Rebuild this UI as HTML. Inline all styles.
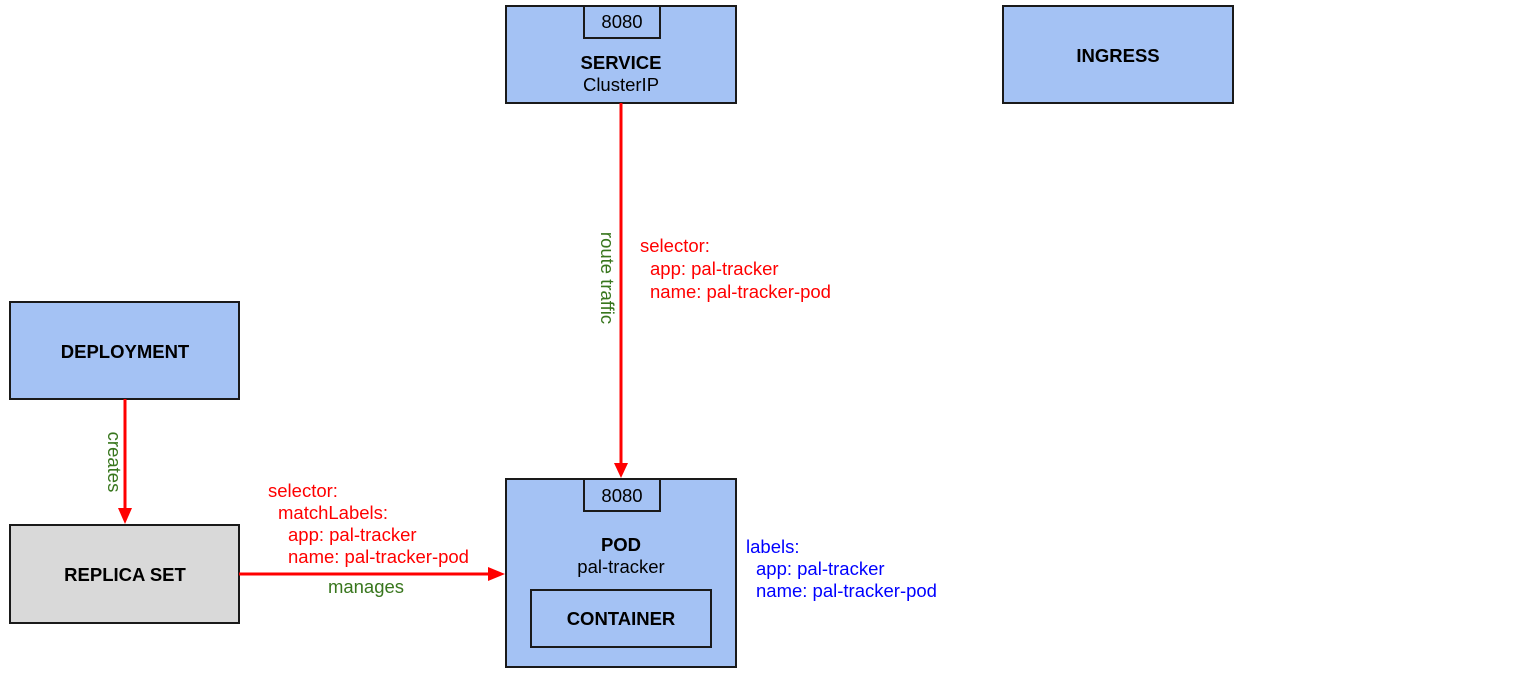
<!DOCTYPE html>
<html><head><meta charset="utf-8"><style>
html,body{margin:0;padding:0;background:#fff;width:1537px;height:681px;overflow:hidden}
svg text{font-family:"Liberation Sans",Arial,sans-serif;font-size:18.5px}
</style></head><body>
<svg width="1537" height="681" viewBox="0 0 1537 681" xmlns="http://www.w3.org/2000/svg">
<g stroke="#1a1a1a" stroke-width="2">
<rect x="506" y="6" width="230" height="97" fill="#a4c2f4"/>
<rect x="584" y="6" width="76" height="32" fill="#a4c2f4"/>
<rect x="1003" y="6" width="230" height="97" fill="#a4c2f4"/>
<rect x="10" y="302" width="229" height="97" fill="#a4c2f4"/>
<rect x="10" y="525" width="229" height="98" fill="#d9d9d9"/>
<rect x="506" y="479" width="230" height="188" fill="#a4c2f4"/>
<rect x="584" y="479" width="76" height="32" fill="#a4c2f4"/>
<rect x="531" y="590" width="180" height="57" fill="#a4c2f4"/>
</g>
<g stroke="#ff0000" stroke-width="3" fill="#ff0000">
<line x1="621" y1="103" x2="621" y2="464"/>
<polygon points="614,463 628,463 621,478" stroke="none"/>
<line x1="125" y1="399" x2="125" y2="510"/>
<polygon points="118,508 132,508 125,524" stroke="none"/>
<line x1="239" y1="574" x2="490" y2="574"/>
<polygon points="488,567 488,581 505,574" stroke="none"/>
</g>
<g text-anchor="middle" fill="#000">
<text x="622" y="28">8080</text>
<text x="621" y="69" font-weight="bold">SERVICE</text>
<text x="621" y="91">ClusterIP</text>
<text x="1118" y="62" font-weight="bold">INGRESS</text>
<text x="125" y="358" font-weight="bold">DEPLOYMENT</text>
<text x="125" y="581" font-weight="bold">REPLICA SET</text>
<text x="622" y="502">8080</text>
<text x="621" y="551" font-weight="bold">POD</text>
<text x="621" y="573">pal-tracker</text>
<text x="621" y="625" font-weight="bold">CONTAINER</text>
</g>
<g fill="#38761d">
<text x="366" y="593" text-anchor="middle">manages</text>
<text transform="translate(601,278) rotate(90)" text-anchor="middle">route traffic</text>
<text transform="translate(108,462) rotate(90)" text-anchor="middle">creates</text>
</g>
<g fill="#ff0000">
<text x="640" y="252">selector:</text>
<text x="650" y="275">app: pal-tracker</text>
<text x="650" y="298">name: pal-tracker-pod</text>
<text x="268" y="497">selector:</text>
<text x="278" y="519">matchLabels:</text>
<text x="288" y="541">app: pal-tracker</text>
<text x="288" y="563">name: pal-tracker-pod</text>
</g>
<g fill="#0000ff">
<text x="746" y="553">labels:</text>
<text x="756" y="575">app: pal-tracker</text>
<text x="756" y="597">name: pal-tracker-pod</text>
</g>
</svg>
</body></html>
